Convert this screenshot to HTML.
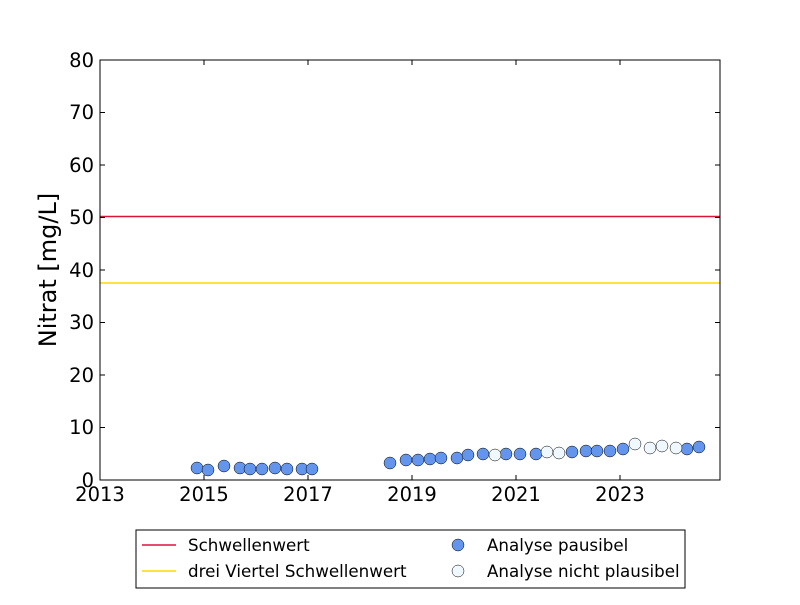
<!DOCTYPE html><html><head><style>body{margin:0;background:#fff}</style></head><body>
<svg width="800" height="600" xmlns="http://www.w3.org/2000/svg" font-family="DejaVu Sans, Liberation Sans, sans-serif">
<rect width="800" height="600" fill="#fff"/>
<line x1="100" y1="216.5" x2="720" y2="216.5" stroke="#dc143c" stroke-width="1.5"/>
<line x1="100" y1="283" x2="720" y2="283" stroke="#ffd700" stroke-width="1.5"/>
<g stroke="#000" stroke-width="0.5">
<g fill="#6495ed">
<circle cx="197" cy="468" r="6"/><circle cx="208" cy="470" r="6"/><circle cx="224" cy="466" r="6"/><circle cx="240" cy="468" r="6"/><circle cx="250" cy="469" r="6"/><circle cx="262" cy="469" r="6"/><circle cx="275" cy="468" r="6"/><circle cx="287" cy="469" r="6"/><circle cx="302" cy="469" r="6"/><circle cx="312" cy="469" r="6"/>
<circle cx="390" cy="463" r="6"/><circle cx="406" cy="460" r="6"/><circle cx="418" cy="460" r="6"/><circle cx="430" cy="459" r="6"/><circle cx="441" cy="458" r="6"/><circle cx="457" cy="458" r="6"/><circle cx="468" cy="455" r="6"/><circle cx="483" cy="454" r="6"/><circle cx="506" cy="454" r="6"/><circle cx="520" cy="454" r="6"/><circle cx="536" cy="454" r="6"/><circle cx="572" cy="452" r="6"/><circle cx="586" cy="451" r="6"/><circle cx="597" cy="451" r="6"/><circle cx="610" cy="451" r="6"/><circle cx="623" cy="449" r="6"/><circle cx="687" cy="449" r="6"/><circle cx="699" cy="447" r="6"/>
</g>
<g fill="#f0f8ff">
<circle cx="495" cy="455" r="6"/><circle cx="547" cy="452" r="6"/><circle cx="559" cy="453" r="6"/><circle cx="635" cy="444" r="6"/><circle cx="650" cy="448" r="6"/><circle cx="662" cy="446" r="6"/><circle cx="676" cy="448" r="6"/>
</g></g>
<rect x="100" y="60" width="620" height="420" fill="none" stroke="#000" stroke-width="1"/>
<g stroke="#000" stroke-width="1">
<path d="M100 480v-5M204 480v-5M308 480v-5M412 480v-5M516 480v-5M620 480v-5M100 60v5M204 60v5M308 60v5M412 60v5M516 60v5M620 60v5"/>
<path d="M100 427.5h5M100 375h5M100 322.5h5M100 270h5M100 217.5h5M100 165h5M100 112.5h5M720 427.5h-5M720 375h-5M720 322.5h-5M720 270h-5M720 217.5h-5M720 165h-5M720 112.5h-5"/>
</g>
<g font-size="19.5" text-anchor="middle">
<text x="100" y="501">2013</text><text x="204" y="501">2015</text><text x="308" y="501">2017</text><text x="412" y="501">2019</text><text x="516" y="501">2021</text><text x="620" y="501">2023</text>
</g>
<g font-size="19.5" text-anchor="end">
<text x="94" y="487">0</text><text x="94" y="434">10</text><text x="94" y="382">20</text><text x="94" y="329">30</text><text x="94" y="277">40</text><text x="94" y="224">50</text><text x="94" y="172">60</text><text x="94" y="119">70</text><text x="94" y="67">80</text>
</g>
<text transform="translate(56 270) rotate(-90)" font-size="24" text-anchor="middle">Nitrat [mg/L]</text>
<rect x="136" y="530" width="549" height="58" fill="#fff" stroke="#000" stroke-width="1"/>
<line x1="142" y1="545" x2="176" y2="545" stroke="#dc143c" stroke-width="1.5"/>
<line x1="142" y1="571" x2="176" y2="571" stroke="#ffd700" stroke-width="1.5"/>
<circle cx="458" cy="545" r="6" fill="#6495ed" stroke="#000" stroke-width="0.5"/>
<circle cx="458" cy="571" r="6" fill="#f0f8ff" stroke="#000" stroke-width="0.5"/>
<g font-size="16.7">
<text x="188" y="551">Schwellenwert</text><text x="188" y="577">drei Viertel Schwellenwert</text>
<text x="487" y="551">Analyse pausibel</text><text x="487" y="577">Analyse nicht plausibel</text>
</g>
</svg></body></html>
